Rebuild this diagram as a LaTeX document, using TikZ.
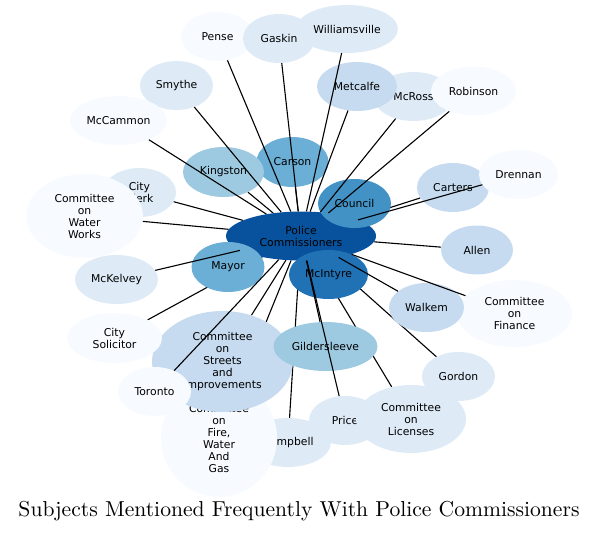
\documentclass[tikz,border=0pt]{standalone}
\usepackage{fontspec}
\newfontfamily\labelfont{DejaVu Sans}
\newfontfamily\titlefont{lmroman10-regular}[Extension=.otf]
\usetikzlibrary{shapes.geometric}
\definecolor{blues0}{HTML}{F7FBFF}
\definecolor{blues1}{HTML}{DEEBF7}
\definecolor{blues2}{HTML}{C6DBEF}
\definecolor{blues3}{HTML}{9ECAE1}
\definecolor{blues4}{HTML}{6BAED6}
\definecolor{blues5}{HTML}{4292C6}
\definecolor{blues6}{HTML}{2171B5}
\definecolor{blues7}{HTML}{08519C}
\pgfdeclarelayer{behind}
\pgfsetlayers{behind,main}

\begin{document}
\begin{tikzpicture}[x=1pt,y=-1pt,
  vertex/.style={
    ellipse,
    draw=none,
    inner sep=0pt,
    align=center,
    font=\labelfont\fontsize{10.8}{12}\selectfont
  },
  dims/.style 2 args={minimum width=#1pt,minimum height=#2pt},
  link/.style={line width=1.1pt}
]
  \useasboundingbox (0,0) rectangle (599,533);
  % hub and the nodes sitting on it
  \node[vertex,fill=blues7,dims={150}{49}] (pc) at (301,236) {Police\\Commissioners};
  \node[vertex,fill=blues5,dims={73}{49}] (council) at (354.5,203.5) {Council};
  \node[vertex,fill=blues6,dims={79}{49}] (mcintyre) at (328.5,274.5) {McIntyre};
  \node[vertex,fill=blues4,dims={73}{50}] (mayor) at (228,267) {Mayor};
  % upper half
  \node[vertex,fill=blues4,dims={72}{50}] (carson) at (292.5,162) {Carson};
  \node[vertex,fill=blues3,dims={81}{50}] (kingston) at (223.5,172) {Kingston};
  \node[vertex,fill=blues0,dims={73}{49}] (pense) at (217.5,36.5) {Pense};
  \node[vertex,fill=blues1,dims={72}{49}] (gaskin) at (279,38.5) {Gaskin};
  \node[vertex,fill=blues1,dims={102}{48}] (williamsville) at (347,29) {Williamsville};
  \node[vertex,fill=blues1,dims={80}{49}] (mcross) at (413.5,96.5) {McRoss};
  \node[vertex,fill=blues2,dims={80}{49}] (metcalfe) at (357,86.5) {Metcalfe};
  \node[vertex,fill=blues0,dims={85}{49}] (robinson) at (473.5,91) {Robinson};
  \node[vertex,fill=blues1,dims={73}{49}] (smythe) at (176.5,85.5) {Smythe};
  \node[vertex,fill=blues0,dims={97}{49}] (mccammon) at (118.5,120.5) {McCammon};
  \node[vertex,fill=blues1,dims={73}{49}] (cityclerk) at (139.5,192.5) {City\\Clerk};
  \node[vertex,fill=blues0,dims={117}{84}] (waterworks) at (84.5,216) {Committee\\on\\Water\\Works};
  \node[vertex,fill=blues2,dims={72}{49}] (carters) at (453,187.5) {Carters};
  \node[vertex,fill=blues0,dims={79}{49}] (drennan) at (518.5,174.5) {Drennan};
  % right side
  \node[vertex,fill=blues2,dims={72}{49}] (allen) at (477,250) {Allen};
  \node[vertex,fill=blues0,dims={115}{67}] (finance) at (514.5,313.5) {Committee\\on\\Finance};
  \node[vertex,fill=blues2,dims={75}{49}] (walkem) at (426.5,307.5) {Walkem};
  \node[vertex,fill=blues1,dims={73}{49}] (gordon) at (458.5,376.5) {Gordon};
  % lower half
  \node[vertex,fill=blues1,dims={72}{49}] (price) at (345,420.5) {Price};
  \node[vertex,fill=blues1,dims={110}{68}] (licenses) at (411,419) {Committee\\on\\Licenses};
  \node[vertex,fill=blues1,dims={86}{49}] (campbell) at (288,442.5) {Campbell};
  \node[vertex,fill=blues0,dims={116}{118}] (fire) at (219,438) {Committee\\on\\Fire,\\Water\\And\\Gas};
  \node[vertex,fill=blues2,dims={141}{101}] (streets) at (222.5,361.5) {Committee\\on\\Streets\\and\\Improvements};
  \node[vertex,fill=blues3,dims={104}{49}] (gildersleeve) at (325.5,346.5) {Gildersleeve};
  \node[vertex,fill=blues0,dims={73}{49}] (toronto) at (154.5,391.5) {Toronto};
  \node[vertex,fill=blues1,dims={83}{49}] (mckelvey) at (116.5,279.5) {McKelvey};
  \node[vertex,fill=blues0,dims={95}{50}] (citysolicitor) at (114.5,338) {City\\Solicitor};
  % edges hidden behind other nodes
  \begin{pgfonlayer}{behind}
  \draw[link] (pc)--(carters);
  \draw[link] (pc)--(campbell);
  \draw[link] (pc)--(licenses);
  \draw[link] (pc)--(gordon);
  \draw[link] (pc)--(fire);
  \draw[link] (pc)--(citysolicitor);
  \draw[link] (pc)--(streets);
  \draw[link] (pc)--(kingston);
  \draw[link] (pc)--(carson);
  \draw[link] (pc)--(allen);
  \draw[link] (pc)--(cityclerk);
  \draw[link] (pc)--(waterworks);
  \draw[link] (pc)--(council);
  \draw[link] (pc)--(mcintyre);
  \draw[link] (pc)--(mayor);
  \end{pgfonlayer}
  % edges running over other nodes
  \draw[link] (pc)--(pense);
  \draw[link] (pc)--(gaskin);
  \draw[link] (pc)--(williamsville);
  \draw[link] (pc)--(metcalfe);
  \draw[link] (pc)--(mcross);
  \draw[link] (pc)--(robinson);
  \draw[link] (pc)--(smythe);
  \draw[link] (pc)--(mccammon);
  \draw[link] (pc)--(mckelvey);
  \draw[link] (pc)--(drennan);
  \draw[link] (pc)--(price);
  \draw[link] (pc)--(gildersleeve);
  \draw[link] (pc)--(walkem);
  \draw[link] (pc)--(finance);
  \draw[link] (pc)--(toronto);
  \node (title) at (299,511) {\titlefont\fontsize{21.6}{24}\selectfont Subjects Mentioned Frequently With Police Commissioners};
\end{tikzpicture}
\end{document}
